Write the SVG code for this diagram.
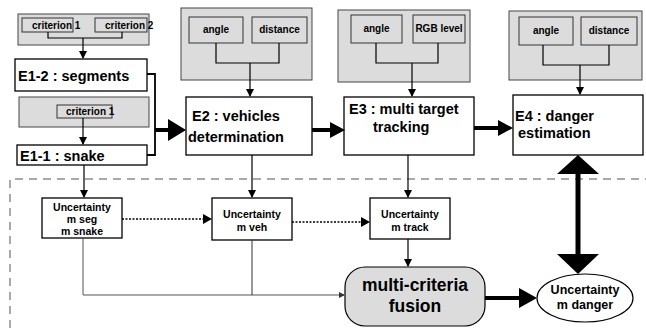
<svg xmlns="http://www.w3.org/2000/svg" width="646" height="328" viewBox="0 0 646 328">
<defs>
<marker id="ah" markerWidth="8" markerHeight="8" refX="7" refY="4" orient="auto" markerUnits="userSpaceOnUse"><path d="M0,0 L8,4 L0,8 Z" fill="#000"/></marker>
<marker id="ahs" markerWidth="6" markerHeight="6" refX="5" refY="3" orient="auto" markerUnits="userSpaceOnUse"><path d="M0,0 L6,3 L0,6 Z" fill="#333"/></marker>
</defs>
<style>
.panel{fill:#dcdcdc;stroke:#444;stroke-width:1}
.sub{fill:#dcdcdc;stroke:#333;stroke-width:1}
.box{fill:#fff;stroke:#000;stroke-width:1.3}
.t{font-family:"Liberation Sans",Arial,sans-serif;font-weight:bold;fill:#000}
.s{font-size:10px}
.m{font-size:14.5px}
.u{font-size:10.5px}
.ln{fill:none;stroke:#000;stroke-width:1.2}
.th{fill:none;stroke:#000;stroke-width:4}
.dot{fill:none;stroke:#000;stroke-width:1.5;stroke-dasharray:2 1.5}
.dash{fill:none;stroke:#555;stroke-width:1;stroke-dasharray:8 6}
</style>

<g id="frame"><path class="dash" d="M10,328 V179 H646"/></g>

<g id="criteria1">
<rect class="panel" x="18" y="14" width="131" height="31"/>
<rect class="sub" x="22" y="18" width="51" height="14"/>
<rect class="sub" x="95" y="18" width="52" height="14"/>
<text class="t s" x="32" y="29">criterion 1</text>
<text class="t s" x="105" y="29">criterion 2</text>
</g>
<g id="E1-2"><rect class="box" x="15" y="59" width="132" height="32"/><text class="t m" x="18" y="81">E1-2 : segments</text></g>
<g id="criteria2">
<rect class="panel" x="19" y="97" width="130" height="30"/>
<rect class="sub" x="57" y="105" width="55" height="13"/>
<text class="t s" x="66" y="115">criterion 1</text>
</g>
<g id="E1-1"><rect class="box" x="17" y="145" width="130" height="20"/><text class="t m" x="20" y="161">E1-1 : snake</text></g>

<g id="criteria-E2">
<rect class="panel" x="181" y="8" width="131" height="72"/>
<rect class="sub" x="189" y="17" width="54" height="26"/>
<rect class="sub" x="252" y="17" width="55" height="26"/>
<text class="t s" x="216" y="33" text-anchor="middle">angle</text>
<text class="t s" x="279.5" y="33" text-anchor="middle">distance</text>
</g>
<g id="E2"><rect class="box" x="186" y="97" width="126" height="58"/><text class="t m" x="192" y="121">E2 : vehicles</text><text class="t m" x="188" y="142">determination</text></g>

<g id="criteria-E3">
<rect class="panel" x="338" y="10" width="132" height="72"/>
<rect class="sub" x="351" y="15" width="51" height="28"/>
<rect class="sub" x="413" y="15" width="52" height="28"/>
<text class="t s" x="376.5" y="32" text-anchor="middle">angle</text>
<text class="t s" x="439" y="32" text-anchor="middle">RGB level</text>
</g>
<g id="E3"><rect class="box" x="344" y="97" width="130" height="58"/><text class="t m" x="349" y="114">E3 : multi target</text><text class="t m" x="373" y="132">tracking</text></g>

<g id="criteria-E4">
<rect class="panel" x="509" y="11" width="133" height="69"/>
<rect class="sub" x="519" y="17" width="54" height="28"/>
<rect class="sub" x="581" y="17" width="56" height="28"/>
<text class="t s" x="546" y="34" text-anchor="middle">angle</text>
<text class="t s" x="609" y="34" text-anchor="middle">distance</text>
</g>
<g id="E4"><rect class="box" x="513" y="95" width="130" height="60"/><text class="t m" x="515" y="121">E4 : danger</text><text class="t m" x="518" y="138">estimation</text></g>

<g id="U-seg"><rect class="box" x="42" y="198" width="80" height="40"/><text class="t u" x="82" y="211" text-anchor="middle">Uncertainty</text><text class="t u" x="82" y="223" text-anchor="middle">m seg</text><text class="t u" x="82" y="235" text-anchor="middle">m snake</text></g>
<g id="U-veh"><rect class="box" x="212" y="198" width="80" height="42"/><text class="t u" x="252" y="218" text-anchor="middle">Uncertainty</text><text class="t u" x="252" y="231" text-anchor="middle">m veh</text></g>
<g id="U-track"><rect class="box" x="370" y="198" width="80" height="41"/><text class="t u" x="410" y="218" text-anchor="middle">Uncertainty</text><text class="t u" x="410" y="231" text-anchor="middle">m track</text></g>
<g id="fusion"><rect x="345" y="267" width="140" height="59" rx="20" ry="20" fill="#dcdcdc" stroke="#000" stroke-width="1.2"/><text class="t" font-size="17.5" x="415" y="291" text-anchor="middle">multi-criteria</text><text class="t" font-size="17.5" x="415" y="312" text-anchor="middle">fusion</text></g>
<g id="U-danger"><ellipse cx="585" cy="298" rx="48" ry="24" fill="#fff" stroke="#000" stroke-width="1.2"/><text class="t" font-size="12.5" x="585" y="294" text-anchor="middle">Uncertainty</text><text class="t" font-size="12.5" x="585" y="309" text-anchor="middle">m danger</text></g>

<g id="connectors">
<path class="ln" d="M48,32 V38 H122 V32"/>
<path class="ln" d="M83,38 V58" marker-end="url(#ah)"/>
<path class="ln" d="M83,118 V144" marker-end="url(#ah)"/>
<path class="ln" d="M216,43 V63 H279 V43"/>
<path class="ln" d="M250,63 V96" marker-end="url(#ah)"/>
<path class="ln" d="M376,43 V63 H438 V43"/>
<path class="ln" d="M412,63 V96" marker-end="url(#ah)"/>
<path class="ln" d="M543,45 V65 H609 V45"/>
<path class="ln" d="M580,65 V94" marker-end="url(#ah)"/>
<path fill="none" stroke="#000" stroke-width="1.8" d="M147,74 H155 V155 H147"/>
<path class="th" d="M155,130 H170"/><path d="M168,119 L186,130 L168,141 Z"/>
<path class="th" d="M312,130 H332"/><path d="M330,122 L345,130 L330,138 Z"/>
<path class="th" d="M474,128 H500"/><path d="M498,120 L513,128 L498,136 Z"/>
<path class="ln" d="M84,165 V197" marker-end="url(#ah)"/>
<path class="ln" d="M252,155 V197" marker-end="url(#ah)"/>
<path class="ln" d="M408,155 V197" marker-end="url(#ah)"/>
<path class="dot" d="M122,219 H204"/><path d="M203,214 L212,219 L203,224 Z"/>
<path class="dot" d="M292,222 H362"/><path d="M361,217 L370,222 L361,227 Z"/>
<path class="ln" d="M408,239 V266" marker-end="url(#ah)"/>
<path fill="none" stroke="#555" stroke-width="1" d="M83,238 V295 H344" marker-end="url(#ahs)"/>
<path fill="none" stroke="#333" stroke-width="1" d="M252,240 V295"/>
<path class="th" d="M485,298 H522"/><path d="M519,288 L537,298 L519,308 Z"/>
<path fill="none" stroke="#000" stroke-width="5" d="M578,172 V255"/>
<path d="M557,174 L578,155 L599,174 Z"/>
<path d="M557,254 L578,274 L599,254 Z"/>
</g>
</svg>
